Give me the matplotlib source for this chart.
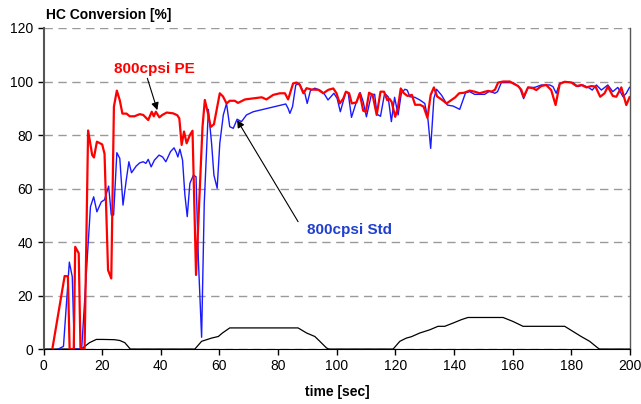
import matplotlib
matplotlib.use("Agg")
import matplotlib.pyplot as plt

plt.rcParams['font.family'] = ['Liberation Sans', 'DejaVu Sans']

pe_t = [3.0, 7.2, 8.3, 8.9, 10.3, 10.8, 12.0, 12.6, 14.0, 15.2, 16.6, 17.2, 18.2, 20.0, 20.8, 22.0, 23.1,
        24.0, 25.0, 26.0, 26.9, 28.3, 29.4, 31.0, 32.8, 34.0, 35.7, 36.9, 37.6, 38.3, 39.5, 40.5, 42.0,
        44.2, 45.6, 46.3, 47.1, 47.9, 48.8, 49.9, 50.8, 52.0, 54.2, 55.0, 56.2, 57.0, 58.1, 59.0, 60.1,
        61.2, 62.4, 63.5, 65.2, 66.3, 68.7, 72.1, 74.4, 76.0, 78.3, 80.6, 82.3, 83.4, 85.1, 86.3, 87.4,
        88.6, 89.7, 91.4, 93.7, 95.4, 97.1, 98.8, 99.9, 101.0, 102.2, 103.1, 104.2, 105.1, 106.7, 107.8,
        109.0, 109.9, 111.0, 112.2, 113.6, 114.9, 116.1, 117.2, 117.9, 118.7, 119.9, 120.8, 121.8, 122.9,
        124.1, 125.6, 126.7, 128.4, 129.6, 130.9, 132.0, 133.1, 134.2, 135.7, 137.4, 139.1, 140.4, 141.7,
        143.4, 145.3, 147.0, 148.7, 150.2, 151.6, 152.7, 153.9, 155.0, 156.7, 159.0, 160.4, 161.8, 162.9,
        163.7, 165.2, 166.9, 168.0, 169.7, 171.4, 173.1, 174.6, 176.0, 177.7, 180.0, 181.7, 183.4, 185.1,
        186.8, 188.2, 189.8, 191.3, 192.4, 194.1, 195.3, 197.0, 198.7, 199.8]
pe_v = [0, 27.3, 27.2, 0, 0, 38.2, 35.8, 0, 0, 81.7, 72.5, 71.6, 77.5, 76.5, 73.0, 29.5, 26.4,
        90.6, 96.6, 93.0, 88.0, 88.0, 87.0, 87.0, 87.8, 87.5, 85.6, 88.7, 87.0, 88.7, 86.6, 87.5, 88.4,
        88.1, 87.4, 86.2, 76.3, 81.3, 76.9, 80.0, 81.6, 27.7, 83.0, 93.1, 87.5, 83.0, 84.0, 89.3, 95.6,
        94.4, 91.8, 92.8, 92.8, 92.0, 93.3, 93.8, 94.1, 93.3, 95.0, 95.6, 95.6, 93.3, 99.3, 99.6, 98.7,
        95.6, 97.5, 97.0, 96.9, 95.6, 96.9, 97.4, 95.6, 91.8, 93.6, 96.2, 95.6, 91.8, 92.2, 95.6,
        89.1, 88.7, 95.8, 95.0, 87.5, 96.2, 96.2, 93.0, 93.6, 92.4, 86.8, 90.0, 97.4, 95.6,
        94.6, 95.0, 91.3, 91.3, 90.6, 86.4, 95.0, 97.8, 94.4, 93.3, 91.8, 93.1, 94.1, 95.6,
        95.8, 96.6, 96.2, 95.6, 96.1, 96.5, 96.2, 96.9, 99.6, 100.0, 100.0, 99.1, 98.3, 96.9,
        94.3, 97.8, 97.5, 96.8, 98.3, 98.7, 96.8, 91.2, 99.1, 99.9, 99.6, 98.3, 98.7, 97.8,
        98.3, 98.1, 94.3, 95.6, 98.1, 94.6, 94.3, 97.8, 91.2, 94.1]

std_t = [5.0, 6.8, 8.8, 9.8, 10.5, 13.0, 16.0, 17.1, 18.2, 19.7, 20.8, 22.2, 23.1, 23.9, 25.0, 26.0,
         27.1, 28.2, 29.1, 30.0, 31.6, 32.8, 34.0, 34.9, 35.7, 36.7, 37.8, 39.4, 40.6, 41.7, 43.3, 44.5,
         45.3, 45.8, 46.5, 47.4, 48.2, 49.0, 49.9, 51.1, 52.0, 52.8, 53.9, 54.8, 56.2, 57.3, 58.1, 59.2,
         60.1, 61.3, 62.4, 63.5, 64.7, 66.0, 67.5, 69.2, 71.5, 73.8, 76.0, 79.4, 82.6, 83.4, 84.0, 84.9,
         86.0, 87.2, 88.3, 89.1, 89.9, 91.0, 92.5, 94.2, 95.6, 97.0, 99.0, 100.1, 101.2, 103.1, 103.9,
         105.0, 106.5, 108.0, 109.0, 110.1, 111.8, 112.9, 113.7, 114.9, 116.3, 117.5, 118.6, 119.7, 120.9,
         122.0, 123.2, 124.0, 124.9, 126.6, 128.3, 130.0, 131.1, 132.0, 133.1, 134.0, 135.7, 137.7, 139.7,
         141.9, 143.9, 145.3, 147.0, 150.4, 152.1, 153.9, 154.8, 156.1, 160.1, 161.8, 162.4, 163.7, 165.2,
         167.5, 169.7, 172.6, 173.7, 174.8, 176.0, 177.7, 180.5, 182.2, 183.9, 186.2, 187.1, 188.5, 190.2,
         192.4, 194.1, 195.8, 197.6, 198.7, 199.8]
std_v = [0, 1.0, 32.5, 27.0, 0, 0, 53.2, 56.9, 51.3, 55.0, 55.8, 60.9, 50.1, 50.1, 73.4, 71.3,
         53.8, 63.1, 70.0, 65.9, 68.4, 69.6, 70.0, 69.4, 70.9, 68.1, 70.6, 72.5, 71.8, 70.0, 73.8, 75.2,
         73.4, 71.8, 74.7, 70.6, 57.6, 49.5, 61.9, 65.0, 64.4, 33.3, 4.4, 54.4, 89.6, 76.9, 65.0, 60.1,
         76.9, 87.5, 91.8, 83.1, 82.5, 85.9, 85.0, 87.5, 88.7, 89.3, 89.9, 90.8, 91.6, 89.9, 88.1, 90.6,
         98.7, 99.3, 96.8, 95.6, 91.8, 96.6, 97.5, 96.8, 95.6, 93.1, 95.6, 93.7, 88.7, 96.2, 95.6,
         86.6, 91.8, 95.8, 92.4, 86.8, 95.2, 95.2, 87.8, 87.0, 95.6, 94.3, 85.0, 94.1, 87.5,
         95.6, 97.1, 96.8, 94.3, 94.1, 93.1, 91.8, 85.6, 75.0, 93.7, 97.1, 94.9, 91.2, 90.8,
         89.6, 95.8, 96.2, 95.2, 95.2, 96.4, 95.6, 96.2, 99.6, 99.6, 98.3, 97.5, 93.6, 97.8,
         97.8, 98.7, 98.7, 98.1, 95.6, 99.3, 99.9, 99.6, 98.1, 98.7, 97.5, 96.8, 98.7, 96.8,
         98.7, 96.2, 97.8, 94.3, 95.6, 97.8]

spd_t = [0, 12.9, 15.7, 18.0, 20.3, 24.2, 26.0, 27.7, 29.6, 51.6, 53.9, 55.6, 57.3, 59.6, 61.0, 63.5,
         86.8, 89.7, 92.5, 94.2, 96.5, 97.3, 119.2, 121.5, 123.7, 125.4, 128.3, 131.7, 134.5, 136.8,
         139.6, 142.5, 144.7, 156.7, 160.1, 163.5, 177.7, 180.5, 183.3, 186.2, 189.0, 189.6, 200]
spd_v = [0, 0, 2.4, 3.6, 3.6, 3.5, 3.2, 2.4, 0, 0, 2.9, 3.5, 4.1, 4.7, 6.0, 7.9,
         7.9, 6.0, 4.7, 2.9, 0.4, 0, 0, 2.9, 4.1, 4.6, 6.0, 7.2, 8.5, 8.5,
         9.7, 11.0, 11.8, 11.8, 10.3, 8.5, 8.5, 6.6, 4.7, 2.9, 0.4, 0, 0]

x_ticks = [0, 20, 40, 60, 80, 100, 120, 140, 160, 180, 200]
y_ticks = [0, 20, 40, 60, 80, 100, 120]

fig = plt.figure(figsize=(6.41, 4.04), dpi=100)
ax = fig.add_axes([0.0679, 0.136, 0.9151, 0.7947])

ax.set_xlim(0, 200)
ax.set_ylim(0, 120)
ax.set_xticks(x_ticks)
ax.set_yticks(y_ticks)
ax.tick_params(axis='both', labelsize=10, length=4, width=1, direction='out', color='black')
ax.yaxis.grid(True, color='#9a9a9a', linestyle=(0, (6, 4)), linewidth=1)
ax.set_axisbelow(True)

ax.spines['top'].set_visible(False)
ax.spines['left'].set_color('#555555')
ax.spines['left'].set_linewidth(1.5)
ax.spines['right'].set_color('#555555')
ax.spines['right'].set_linewidth(1.0)
ax.spines['bottom'].set_color('black')

ax.plot(spd_t, spd_v, color='black', lw=0.9, zorder=2)
ax.plot(std_t, std_v, color='#1a1aff', lw=1.0, zorder=3)
ax.plot(pe_t, pe_v, color='#ff0000', lw=1.6, zorder=4)

arrow = dict(arrowstyle='-|>', color='black', lw=0.8, mutation_scale=11, shrinkA=0, shrinkB=0)
ax.text(37.8, 104.7, '800cpsi PE', color='#ff0000', fontsize=11, fontweight='bold',
        ha='center', va='center')
ax.annotate('', xy=(38.8, 89.3), xytext=(35.4, 101.2), arrowprops=arrow, zorder=5)
ax.text(104.4, 44.5, '800cpsi Std', color='#1f3fcc', fontsize=11, fontweight='bold',
        ha='center', va='center')
ax.annotate('', xy=(66.0, 85.6), xytext=(86.8, 47.6), arrowprops=arrow, zorder=5)

fig.text(0.17, 0.963, 'HC Conversion [%]', fontsize=10, fontweight='bold', ha='center', va='center')
ax.set_xlabel('time [sec]', fontsize=10, fontweight='bold', labelpad=8)

fig.savefig('out.png', dpi=100)
